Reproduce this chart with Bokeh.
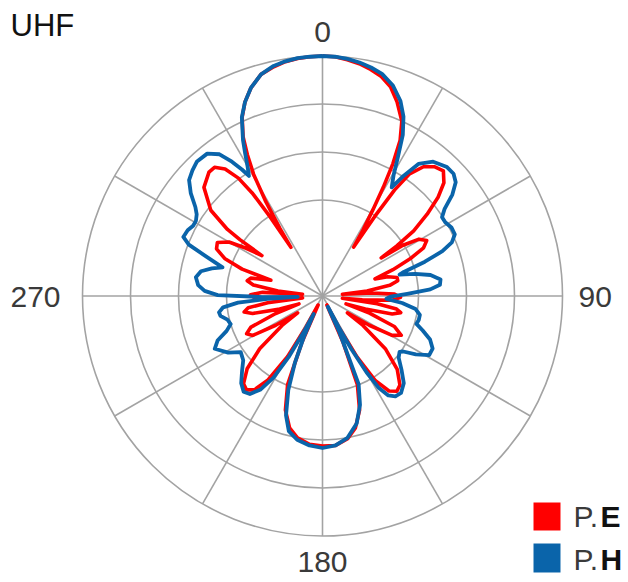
import numpy as np
from bokeh.plotting import figure
from bokeh.models import Range1d
from bokeh.core.properties import value
from bokeh.embed import file_html
from bokeh.resources import INLINE

# ---------------- data (angle in degrees clockwise from 0, gain in dB) ----------------
ang_e = [0, 3, 6, 9, 12, 15, 18, 21, 24.4, 26.5, 28, 29.2, 30.3, 31.5, 32.5,
         33.3, 34.2, 35.5, 38, 41, 44, 47, 49.5, 52, 54.5, 56, 57,
         57.8, 59.5, 62, 64.5, 67, 69.5, 72,
         73.5, 76, 78.5, 81, 83.5, 85,
         86.5, 88.5, 91, 93.5, 95.5, 96.5,
         98, 100, 102, 104.5, 107, 108.5,
         110, 113, 116.5, 119.5, 122, 124,
         126, 130, 134.5, 139, 142, 145, 148, 150.5, 152.5, 154,
         156, 158.5, 162, 166, 170, 175, 180, 185, 190, 194, 198, 201.5, 204, 206,
         208, 210, 213, 216, 219, 222, 226, 230, 234, 236,
         238, 240.5, 243.5, 246.5, 249.5, 251.5,
         253, 256, 258.5, 261, 263, 264.5,
         266, 268.5, 271, 273.5, 275,
         276.5, 279, 281.5, 284, 287,
         288.5, 291, 294, 297, 300, 302, 303.7,
         304.3, 305, 307.5, 312.5, 317.5, 320, 322.5, 324.5, 325.7, 326.5, 327,
         327.8, 329, 330.5, 332, 333.5, 335.8, 338.2, 341, 344.5, 348, 351, 354, 357, 360]
db_e = [0, -0.05, -0.3, -0.6, -1.05, -1.6, -2.5, -4, -6, -8.25, -11.25, -14.4, -17.5, -20.25, -22.75,
        -18.1, -14, -11.25, -9.5, -8.6, -8.25, -9.25, -11, -13.4, -16, -18.75, -21.25,
        -18.1, -16, -15.25, -16, -18.1, -20.6, -23.1,
        -21.5, -20.4, -20.4, -21.5, -24.4, -27.5,
        -23.75, -21, -20.25, -21.25, -25, -27.5,
        -23.1, -20.6, -20, -21, -24.4, -26.9,
        -23.75, -20.25, -19, -20, -23.1, -26.25,
        -23.75, -19.75, -16.9, -15.25, -14.9, -15.5, -17.5, -21.25, -25.6, -28.75,
        -23.75, -18.1, -15, -13, -11.9, -11.25, -11.25, -11.4, -12, -13, -15, -18.1, -23.75, -28.75,
        -25.6, -21.25, -17.5, -15.5, -14.9, -15.25, -16.9, -19.75, -23.75, -26.25,
        -23.1, -20, -19.4, -20.25, -23.75, -26.9,
        -24.4, -21, -20, -20.6, -23.1, -27.5,
        -25, -21.5, -21, -22.5, -27.5,
        -24.4, -21.25, -20.4, -20.75, -23.25,
        -19.4, -16.9, -15.5, -15.25, -16.5, -18.75, -20.9,
        -17.5, -15.5, -12.4, -9.9, -9, -9, -10, -11.9, -14.4, -18.1, -22.75,
        -20, -16.25, -12.5, -10, -7.75, -5.5, -3.9, -2.5, -1.25, -0.7, -0.35, -0.15, -0.05, 0]

ang_h = [0, 3, 6, 9, 12, 15, 18.5, 21.8, 24.3, 26.5, 28.5, 30.5, 32.5,
         34, 36, 39.5, 44, 47, 49.5, 52, 54.5, 56.6,
         59, 62, 65, 67.5, 69.5, 71.5, 73.5, 74.5,
         76.5, 79, 82, 84.5, 86.5, 88.5, 90.5, 92.5,
         95, 98, 101, 104, 106.5,
         109, 112, 115.5, 119, 122, 124.5, 126,
         129, 133, 137, 141, 144, 146.5, 148.5, 150, 151.5, 152.5, 153.5,
         155, 157.7, 161, 165, 170, 175, 180, 185, 190, 194, 197, 200, 202.5, 204.5, 206,
         207.5, 209, 211, 213.5, 216.5, 219.5, 223, 227, 231, 235.5,
         239, 243.9, 247, 250, 253,
         256, 259, 261, 263.5, 265.5, 267, 268,
         269, 270.5, 272.5, 275, 278.4, 281.5, 284, 286,
         289, 291, 293, 296, 298.5, 300.7,
         303, 305, 308, 311, 314, 317, 321, 324, 326, 327.5, 328.5,
         330, 331.5, 333, 335.7, 338.2, 341, 344.5, 348, 351, 354, 357, 360]
db_h = [0, -0.05, -0.2, -0.45, -0.8, -1.25, -2.25, -3.75, -5.4, -7.5, -10.25, -12.5, -13.9,
        -11.9, -9.6, -8.25, -7.6, -7.6, -8.1, -9.4, -11.25, -12.1,
        -12.1, -11.75, -11.75, -12.5, -14, -16.5, -19.4, -20,
        -18.1, -16.25, -15.1, -15.25, -16.5, -19.4, -21.5, -22,
        -20, -18.25, -17.6, -17.6, -17.75,
        -16.75, -15.5, -14.75, -14.75, -16.25, -17.75, -18.1,
        -17.75, -16.5, -15.1, -14.4, -14.5, -15.1, -16.5, -19, -22.5, -25.6, -28.5,
        -25, -18.1, -15.6, -13.5, -12, -11.25, -11, -11.25, -11.75, -12.6, -14.4, -17.5, -21, -24.4, -27.5,
        -25, -21.25, -18.1, -16, -14.75, -14.5, -15.1, -16.25, -17.25, -17.6,
        -16.25, -15, -15.75, -17.25, -18,
        -17.75, -17, -16.9, -17.5, -19.4, -23.1, -26.9,
        -22.5, -16.9, -15.25, -14.4, -14, -14.5, -15.75, -17,
        -14.4, -12.1, -11.1, -11.25, -11.6, -11.6,
        -11.25, -10.6, -9.1, -7.9, -7.4, -7, -7.1, -8.1, -9.75, -11.25, -12.4,
        -11.25, -9.75, -8.1, -5.5, -3.9, -2.5, -1.25, -0.6, -0.3, -0.1, -0.05, 0]

ring_db = [-18, -12, -6, 0]
spoke_deg = list(range(0, 360, 30))
angle_tick_labels = ["0", "90", "180", "270"]
series_labels = ["E", "H"]
title_text = "UHF"

# ---------------- geometry ----------------
FLOOR = -30.0   # dB at the centre
SCALE = 8.0     # screen px per dB
R = (0 - FLOOR) * SCALE

def to_xy(a, d):
    a = np.radians(np.asarray(a, float))
    r = (np.asarray(d, float) - FLOOR) * SCALE
    r = np.clip(r, 0, None)
    return r * np.sin(a), r * np.cos(a)

W, H = 628, 582
CX, CY = 322, 295.5

p = figure(width=W, height=H, x_range=Range1d(-CX, W - CX), y_range=Range1d(-(H - CY), CY),
           output_backend="svg", toolbar_location=None, min_border=0,
           x_axis_location=None, y_axis_location=None)
p.grid.visible = False
p.outline_line_color = None
p.background_fill_color = "white"
p.border_fill_color = "white"

GRID = "#a3a3a3"
rr = [(d - FLOOR) * SCALE for d in ring_db]
p.circle(x=[0] * len(rr), y=[0] * len(rr), radius=rr, fill_color=None,
         line_color=GRID, line_width=1.6)
sx = [[0, R * np.sin(np.radians(a))] for a in spoke_deg]
sy = [[0, R * np.cos(np.radians(a))] for a in spoke_deg]
p.multi_line(xs=sx, ys=sy, line_color=GRID, line_width=1.6)

RED = "#ff0000"
BLUE = "#0a64aa"
xe, ye = to_xy(ang_e, db_e)
xh, yh = to_xy(ang_h, db_h)
p.line(xe, ye, line_color=RED, line_width=3.6, line_join="round")
p.line(xh, yh, line_color=BLUE, line_width=3.8, line_join="round")

FONT = value("Liberation Sans")
TXT = "#3a3a3a"
DY = 12  # baseline correction
p.text(x=[0, 256, 0, -262], y=[252.5 + DY, -12.5 + DY, -277.5 + DY, -12.5 + DY],
       text=angle_tick_labels,
       text_align=["center", "left", "center", "right"], text_baseline="alphabetic",
       text_font=FONT, text_font_size="30px", text_color=TXT)
p.text(x=[-312], y=[259 + DY], text=[title_text], text_align="left", text_baseline="alphabetic",
       text_font=FONT, text_font_size="31px", text_color="#111111")

# legend
p.quad(left=[211, 211], right=[238, 238], bottom=[-234.5, -276.5], top=[-206.5, -247.5],
       fill_color=[RED, BLUE], line_color=None)
p.text(x=[251, 251], y=[-231.5 + DY - 1, -274.5 + DY - 1], text=["P.", "P."], text_align="left",
       text_baseline="alphabetic", text_font=FONT, text_font_size="30px", text_color=TXT)
p.text(x=[278, 278], y=[-231.5 + DY - 1, -274.5 + DY - 1], text=series_labels, text_align="left",
       text_baseline="alphabetic", text_font=FONT, text_font_size="30px",
       text_font_style="bold", text_color="#111111")

open("out.html", "w").write(file_html(p, INLINE))
